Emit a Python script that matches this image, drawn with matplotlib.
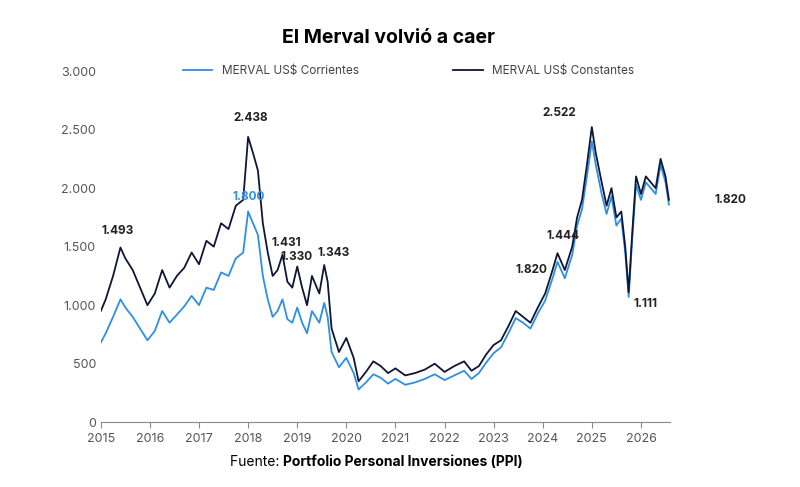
import matplotlib.pyplot as plt
from matplotlib.ticker import FuncFormatter

plt.rcParams['font.family'] = ['Inter', 'DejaVu Sans']

# approximate readings (year fraction, value)
years = [2015.0, 2015.1, 2015.25, 2015.4, 2015.5, 2015.65, 2015.8, 2015.95, 2016.1, 2016.25,
         2016.4, 2016.55, 2016.7, 2016.85, 2017.0, 2017.15, 2017.3, 2017.45, 2017.6, 2017.75,
         2017.9, 2018.0, 2018.1, 2018.2, 2018.3, 2018.4, 2018.5, 2018.6, 2018.7, 2018.8,
         2018.9, 2019.0, 2019.1, 2019.2, 2019.3, 2019.45, 2019.55, 2019.62, 2019.7, 2019.85,
         2020.0, 2020.15, 2020.25, 2020.4, 2020.55, 2020.7, 2020.85, 2021.0, 2021.2, 2021.4,
         2021.6, 2021.8, 2022.0, 2022.2, 2022.4, 2022.55, 2022.7, 2022.85, 2023.0, 2023.15,
         2023.3, 2023.45, 2023.6, 2023.75, 2023.9, 2024.05, 2024.2, 2024.3, 2024.45, 2024.6,
         2024.7, 2024.8, 2024.9, 2025.0, 2025.08, 2025.2, 2025.3, 2025.4, 2025.5, 2025.6,
         2025.68, 2025.75, 2025.82, 2025.9, 2026.0, 2026.1, 2026.2, 2026.3, 2026.4, 2026.5, 2026.57]
constantes = [950, 1050, 1250, 1493, 1400, 1300, 1150, 1000, 1100, 1300,
              1150, 1250, 1320, 1450, 1350, 1550, 1500, 1700, 1650, 1850,
              1900, 2438, 2300, 2150, 1700, 1450, 1250, 1300, 1431, 1200,
              1150, 1330, 1150, 1000, 1250, 1100, 1343, 1200, 800, 600,
              720, 550, 350, 430, 520, 480, 420, 460, 400, 420,
              450, 500, 430, 480, 520, 440, 480, 580, 660, 700,
              820, 950, 900, 850, 980, 1100, 1300, 1444, 1300, 1500,
              1750, 1900, 2200, 2522, 2300, 2050, 1850, 2000, 1750, 1800,
              1500, 1111, 1600, 2100, 1950, 2100, 2050, 2000, 2250, 2100, 1900]
corrientes = [680, 760, 900, 1050, 980, 900, 800, 700, 780, 950,
              850, 920, 990, 1080, 1000, 1150, 1130, 1280, 1250, 1400,
              1450, 1800, 1700, 1600, 1250, 1050, 900, 950, 1050, 880,
              850, 980, 850, 760, 950, 850, 1020, 900, 600, 470,
              550, 420, 280, 340, 410, 380, 330, 370, 320, 340,
              370, 410, 360, 400, 440, 370, 420, 510, 590, 640,
              760, 890, 850, 800, 930, 1040, 1230, 1370, 1230, 1430,
              1680, 1820, 2100, 2400, 2200, 1950, 1780, 1930, 1680, 1740,
              1450, 1070, 1550, 2030, 1900, 2050, 2000, 1950, 2200, 2050, 1860]

labels_k = ['1.493', '2.438', '1.431', '1.330', '1.343', '1.820', '1.444', '2.522', '1.111', '1.820']
labels_kx = [2015.35, 2018.05, 2018.77, 2018.99, 2019.75, 2023.76, 2024.41, 2024.33, 2026.10, 2027.83]
labels_ky = [1632, 2598, 1530, 1410, 1444, 1299, 1590, 2641, 1009, 1897]

fig, ax = plt.subplots(figsize=(8, 4.87), dpi=100)
fig.subplots_adjust(left=0.126, right=0.838, top=0.854, bottom=0.133)
ax.plot(years, corrientes, color='#2e8fe6', lw=1.3, label='MERVAL US$ Corrientes')
ax.plot(years, constantes, color='#0f1635', lw=1.3, label='MERVAL US$ Constantes')

for t, x, y in zip(labels_k, labels_kx, labels_ky):
    ax.text(x, y, t, ha='center', va='center', fontsize=8.5, fontweight='bold',
            color='#222222', clip_on=False)
ax.text(2018.01, 1923, '1.800', ha='center', va='center', fontsize=8.5,
        fontweight='bold', color='#2e8fe6')

ax.set_xlim(2015, 2026.6)
ax.set_ylim(0, 3000)
ax.set_xticks(range(2015, 2027))
ax.set_yticks(range(0, 3001, 500))
ax.yaxis.set_major_formatter(FuncFormatter(lambda v, p: f'{int(v):,}'.replace(',', '.')))
ax.tick_params(labelsize=9, colors='#555555', length=0)
ax.tick_params(axis='x', length=4, color='#888888')
for s in ['top', 'right', 'left']:
    ax.spines[s].set_visible(False)
ax.spines['bottom'].set_color('#888888')

ax.legend(loc='center', bbox_to_anchor=(0.54, 1.0), ncol=2, frameon=False,
          fontsize=8.5, handlelength=2.5, columnspacing=8, labelcolor='#444444')
fig.text(0.485, 0.922, 'El Merval volvió a caer', ha='center', va='center',
         fontsize=14, fontweight='bold')
fig.text(0.354, 0.051, 'Fuente: ', ha='right', va='center', fontsize=10)
fig.text(0.354, 0.051, 'Portfolio Personal Inversiones (PPI)', ha='left', va='center',
         fontsize=10, fontweight='bold')

fig.savefig('out.png')
